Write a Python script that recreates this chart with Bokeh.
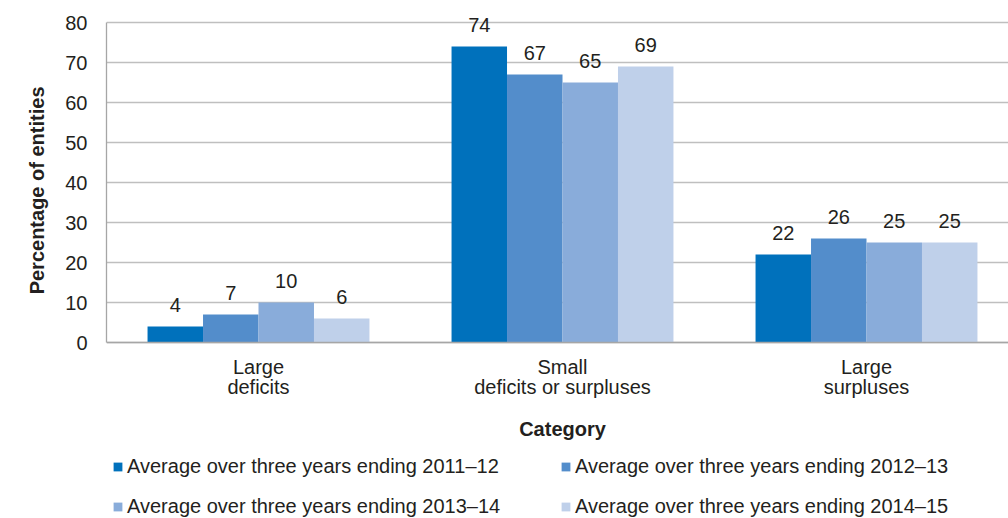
from bokeh.plotting import figure
from bokeh.models import ColumnDataSource, Range1d, FixedTicker, Legend, LegendItem, LabelSet, Span, Title
from bokeh.core.properties import value
from bokeh.embed import file_html
from bokeh.resources import INLINE

categories = ["Large\ndeficits", "Small\ndeficits or surpluses", "Large\nsurpluses"]
x_title = "Category"
y_title = "Percentage of entities"
series = [
    "Average over three years ending 2011–12",
    "Average over three years ending 2012–13",
    "Average over three years ending 2013–14",
    "Average over three years ending 2014–15",
]
values_2011_12 = [4, 74, 22]
values_2012_13 = [7, 67, 26]
values_2013_14 = [10, 65, 25]
values_2014_15 = [6, 69, 25]
all_values = [values_2011_12, values_2012_13, values_2013_14, values_2014_15]
colors = ["#0071BC", "#538DCB", "#89ACDA", "#BFD0EA"]
y_ticks = [0, 10, 20, 30, 40, 50, 60, 70, 80]

FONT = "Liberation Sans"
TXT = "#231F20"
FS = "20px"
AXC = "#A6A6A6"
bar_w = 0.1825

p = figure(
    frame_width=902, frame_height=518,
    min_border_left=106, min_border_right=0, min_border_top=0, min_border_bottom=0,
    x_range=Range1d(0, 902 / 304), y_range=Range1d(-44, 85.5),
    x_axis_location=None,
    output_backend="svg", toolbar_location=None,
)
p.outline_line_color = None
p.xgrid.grid_line_color = None
p.ygrid.grid_line_color = "#BFBFBF"
p.ygrid.grid_line_width = 1.3

renderers = []
for j, vals in enumerate(all_values):
    xs = [i + 0.5 + (j - 1.5) * bar_w for i in range(len(categories))]
    src = ColumnDataSource(dict(x=xs, top=vals, lab=[str(v) for v in vals]))
    r = p.vbar(x="x", top="top", width=bar_w, bottom=0, source=src,
               fill_color=colors[j], line_color=None)
    renderers.append(r)
    p.add_layout(LabelSet(x="x", y="top", text="lab", source=src,
                          text_align="center", text_baseline="bottom", y_offset=15,
                          text_font=value(FONT), text_font_size=FS, text_color=TXT))

# category axis (baseline, labels, title)
p.add_layout(Span(location=0, dimension="width", line_color=AXC, line_width=1.3))
cat_src = ColumnDataSource(dict(x=[i + 0.5 for i in range(len(categories))],
                                y=[0] * len(categories), t=categories))
p.text(x="x", y="y", text="t", source=cat_src, text_align="center", text_baseline="top",
       y_offset=13, text_font=value(FONT), text_font_size=FS, text_color=TXT,
       text_line_height=0.95)
p.text(x=[len(categories) / 2], y=[0], text=[x_title], text_align="center",
       text_baseline="middle", y_offset=86, text_font=value(FONT), text_font_size=FS,
       text_font_style="bold", text_color=TXT)

# y axis
p.yaxis.ticker = FixedTicker(ticks=y_ticks)
p.yaxis.bounds = (0, 80)
p.yaxis.axis_line_color = AXC
p.yaxis.axis_line_width = 1.3
p.yaxis.major_tick_line_color = None
p.yaxis.minor_tick_line_color = None
p.yaxis.major_label_standoff = 13
p.yaxis.major_label_text_font = FONT
p.yaxis.major_label_text_font_size = FS
p.yaxis.major_label_text_color = TXT

ytitle = Title(text=y_title, align="right", offset=86, standoff=30,
               text_font=FONT, text_font_size=FS, text_font_style="bold", text_color=TXT)
p.add_layout(ytitle, "left")

order = [0, 2, 1, 3]
legend = Legend(
    items=[LegendItem(label=series[k], renderers=[renderers[k]]) for k in order],
    ncols=2, location=(6, 0),
    glyph_width=11, glyph_height=11, label_standoff=4, label_width=416,
    spacing=17, padding=0, margin=0,
    border_line_color=None, background_fill_alpha=0,
    label_text_font=FONT, label_text_font_size=FS, label_text_color=TXT,
)
p.add_layout(legend, "center")

open("out.html", "w").write(file_html(p, INLINE))
